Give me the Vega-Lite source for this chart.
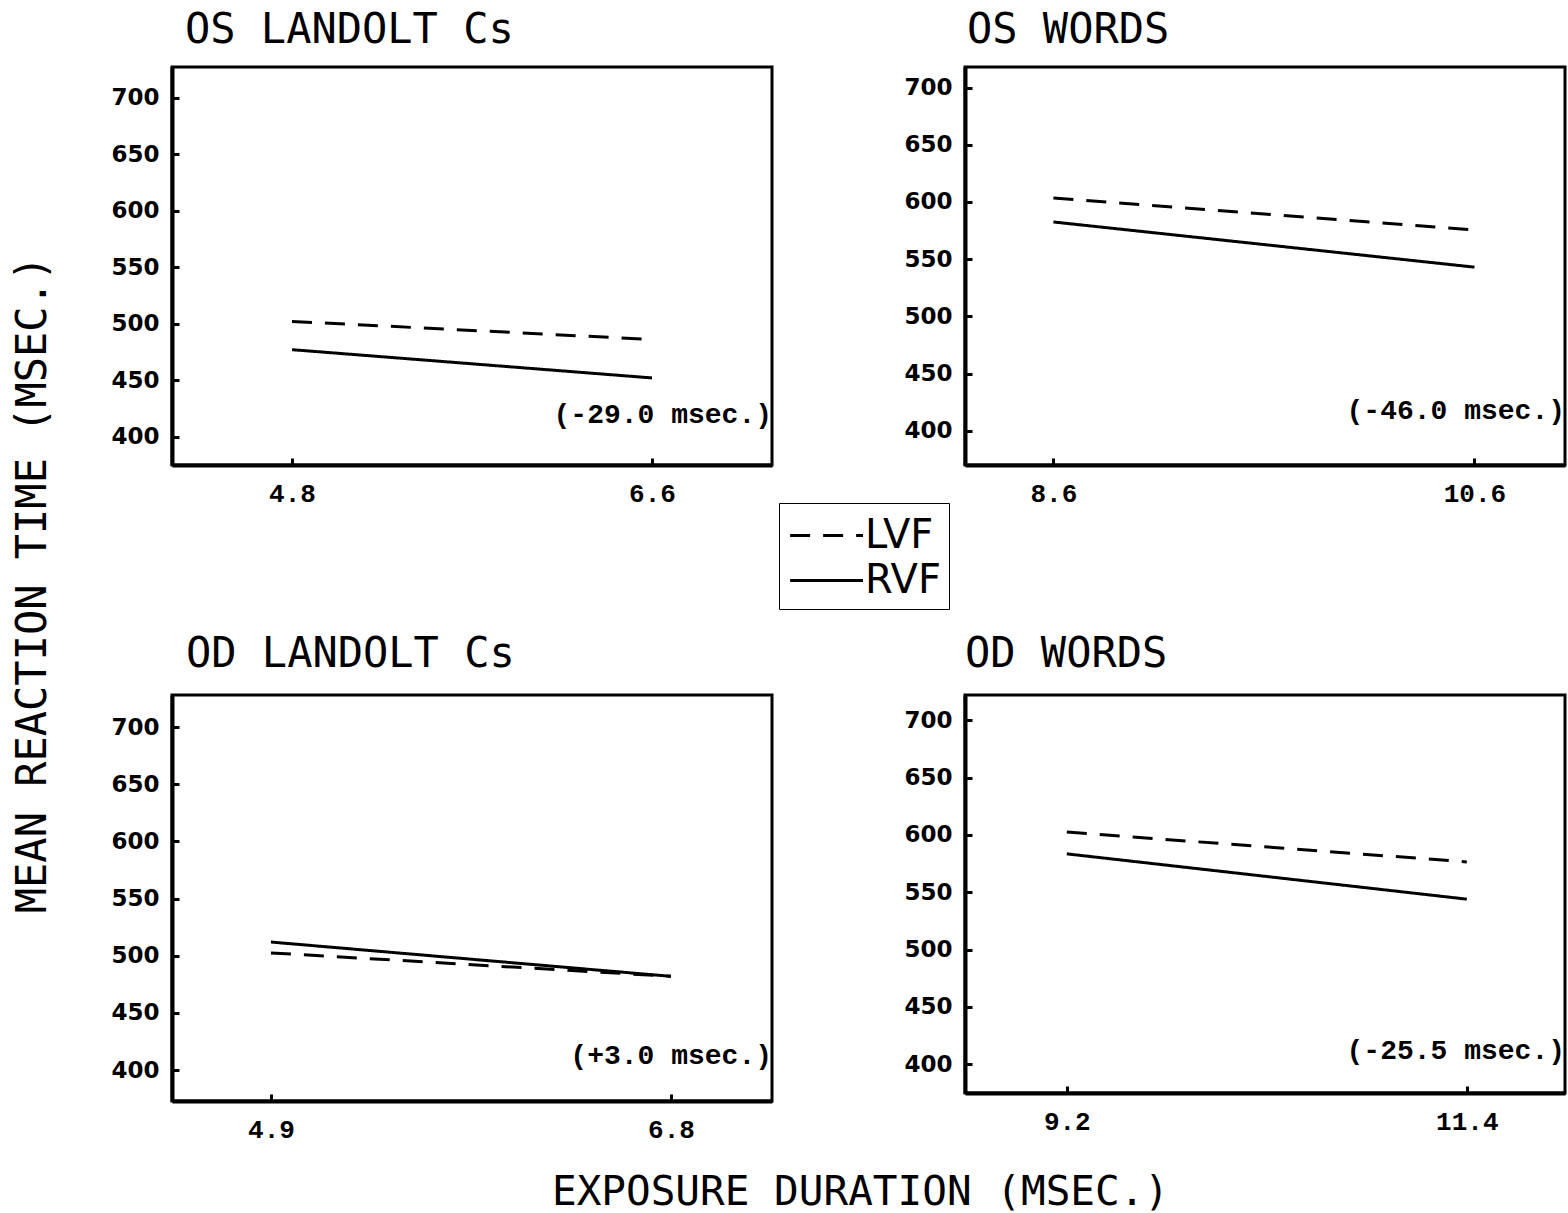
{
  "$schema": "https://vega.github.io/schema/vega-lite/v6.json",
  "background": "white",
  "padding": {"left": 9, "top": 7, "right": 0, "bottom": 0},
  "datasets": {
    "rt": [
      {"panel": "OS LANDOLT Cs", "field": "LVF", "duration": 4.8, "rt": 502},
      {"panel": "OS LANDOLT Cs", "field": "LVF", "duration": 6.6, "rt": 486},
      {"panel": "OS LANDOLT Cs", "field": "RVF", "duration": 4.8, "rt": 477},
      {"panel": "OS LANDOLT Cs", "field": "RVF", "duration": 6.6, "rt": 452},
      {"panel": "OS WORDS", "field": "LVF", "duration": 8.6, "rt": 603.5},
      {"panel": "OS WORDS", "field": "LVF", "duration": 10.6, "rt": 575.5},
      {"panel": "OS WORDS", "field": "RVF", "duration": 8.6, "rt": 582.5},
      {"panel": "OS WORDS", "field": "RVF", "duration": 10.6, "rt": 543},
      {"panel": "OD LANDOLT Cs", "field": "LVF", "duration": 4.9, "rt": 502.5},
      {"panel": "OD LANDOLT Cs", "field": "LVF", "duration": 6.8, "rt": 482},
      {"panel": "OD LANDOLT Cs", "field": "RVF", "duration": 4.9, "rt": 512},
      {"panel": "OD LANDOLT Cs", "field": "RVF", "duration": 6.8, "rt": 482},
      {"panel": "OD WORDS", "field": "LVF", "duration": 9.2, "rt": 602.5},
      {"panel": "OD WORDS", "field": "LVF", "duration": 11.4, "rt": 576.5},
      {"panel": "OD WORDS", "field": "RVF", "duration": 9.2, "rt": 583.5},
      {"panel": "OD WORDS", "field": "RVF", "duration": 11.4, "rt": 544}
    ],
    "notes": [
      {"panel": "OS LANDOLT Cs", "note": "(-29.0 msec.)"},
      {"panel": "OS WORDS", "note": "(-46.0 msec.)"},
      {"panel": "OD LANDOLT Cs", "note": "(+3.0 msec.)"},
      {"panel": "OD WORDS", "note": "(-25.5 msec.)"}
    ]
  },
  "columns": 2,
  "spacing": {"row": 230, "column": 193},
  "bounds": "flush",
  "resolve": {"scale": {"x": "independent", "y": "independent", "strokeDash": "shared"}},
  "concat": [
    {
      "width": 600, "height": 398,
      "title": {"text": "OS LANDOLT Cs", "anchor": "start", "frame": "group", "dx": 13, "offset": 15},
      "layer": [
        {
          "data": {"name": "rt"},
          "transform": [{"filter": "datum.panel == 'OS LANDOLT Cs'"}],
          "mark": {"type": "line", "stroke": "black", "strokeWidth": 3},
          "encoding": {
            "x": {"field": "duration", "type": "quantitative", "scale": {"domain": [4.2, 7.2], "nice": false, "zero": false},
                  "axis": {"values": [4.8, 6.6], "format": ".1f", "title": null}},
            "y": {"field": "rt", "type": "quantitative", "scale": {"domain": [375, 727], "nice": false, "zero": false},
                  "axis": {"values": [400, 425, 450, 475, 500, 525, 550, 575, 600, 625, 650, 675, 700, 725],
                           "labelExpr": "datum.value % 50 == 0 ? datum.label : ''",
                           "title": "MEAN REACTION TIME (MSEC.)", "titleX": -118, "titleY": 517, "titleAlign": "center", "titleAngle": -90, "titleBaseline": "bottom"}},
            "strokeDash": {"field": "field", "type": "nominal", "scale": {"domain": ["LVF", "RVF"], "range": [[20, 13], [1, 0]]}, "title": null,
                           "legend": {"encode": {"symbols": {"update": {"strokeDash": [{"test": "datum.value === 'LVF'", "value": [19, 5]}, {"value": [1, 0]}]}}}}}
          }
        },
        {
          "data": {"name": "notes"},
          "transform": [{"filter": "datum.panel == 'OS LANDOLT Cs'"}],
          "mark": {"type": "text", "align": "right", "baseline": "middle", "font": "Liberation Mono", "fontSize": 28, "fontWeight": "bold", "color": "black"},
          "encoding": {"text": {"field": "note"}, "x": {"datum": 7.2}, "y": {"datum": 419}}
        }
      ]
    },
    {
      "width": 600, "height": 398,
      "title": {"text": "OS WORDS", "anchor": "start", "frame": "group", "dx": 2, "offset": 15},
      "layer": [
        {
          "data": {"name": "rt"},
          "transform": [{"filter": "datum.panel == 'OS WORDS'"}],
          "mark": {"type": "line", "stroke": "black", "strokeWidth": 3},
          "encoding": {
            "x": {"field": "duration", "type": "quantitative", "scale": {"domain": [8.18, 11.03], "nice": false, "zero": false},
                  "axis": {"values": [8.6, 10.6], "format": ".1f", "title": null}},
            "y": {"field": "rt", "type": "quantitative", "scale": {"domain": [370, 718], "nice": false, "zero": false},
                  "axis": {"values": [400, 425, 450, 475, 500, 525, 550, 575, 600, 625, 650, 675, 700],
                           "labelExpr": "datum.value % 50 == 0 ? datum.label : ''", "title": null}},
            "strokeDash": {"field": "field", "type": "nominal", "scale": {"domain": ["LVF", "RVF"], "range": [[20, 13], [1, 0]]}, "title": null}
          }
        },
        {
          "data": {"name": "notes"},
          "transform": [{"filter": "datum.panel == 'OS WORDS'"}],
          "mark": {"type": "text", "align": "right", "baseline": "middle", "font": "Liberation Mono", "fontSize": 28, "fontWeight": "bold", "color": "black"},
          "encoding": {"text": {"field": "note"}, "x": {"datum": 11.03}, "y": {"datum": 417}}
        }
      ]
    },
    {
      "width": 600, "height": 406,
      "title": {"text": "OD LANDOLT Cs", "anchor": "start", "frame": "group", "dx": 14, "offset": 19},
      "layer": [
        {
          "data": {"name": "rt"},
          "transform": [{"filter": "datum.panel == 'OD LANDOLT Cs'"}],
          "mark": {"type": "line", "stroke": "black", "strokeWidth": 3},
          "encoding": {
            "x": {"field": "duration", "type": "quantitative", "scale": {"domain": [4.43, 7.28], "nice": false, "zero": false},
                  "axis": {"values": [4.9, 6.8], "format": ".1f",
                           "title": "EXPOSURE DURATION (MSEC.)", "titleX": 688, "titleY": 71, "titleAlign": "center", "titleBaseline": "top", "titleFontSize": 41}},
            "y": {"field": "rt", "type": "quantitative", "scale": {"domain": [373, 728], "nice": false, "zero": false},
                  "axis": {"values": [400, 425, 450, 475, 500, 525, 550, 575, 600, 625, 650, 675, 700, 725],
                           "labelExpr": "datum.value % 50 == 0 ? datum.label : ''", "title": null}},
            "strokeDash": {"field": "field", "type": "nominal", "scale": {"domain": ["LVF", "RVF"], "range": [[20, 13], [1, 0]]}, "title": null}
          }
        },
        {
          "data": {"name": "notes"},
          "transform": [{"filter": "datum.panel == 'OD LANDOLT Cs'"}],
          "mark": {"type": "text", "align": "right", "baseline": "middle", "font": "Liberation Mono", "fontSize": 28, "fontWeight": "bold", "color": "black"},
          "encoding": {"text": {"field": "note"}, "x": {"datum": 7.28}, "y": {"datum": 412}}
        }
      ]
    },
    {
      "width": 600, "height": 398,
      "title": {"text": "OD WORDS", "anchor": "start", "frame": "group", "dx": 0, "offset": 19},
      "layer": [
        {
          "data": {"name": "rt"},
          "transform": [{"filter": "datum.panel == 'OD WORDS'"}],
          "mark": {"type": "line", "stroke": "black", "strokeWidth": 3},
          "encoding": {
            "x": {"field": "duration", "type": "quantitative", "scale": {"domain": [8.64, 11.94], "nice": false, "zero": false},
                  "axis": {"values": [9.2, 11.4], "format": ".1f", "title": null}},
            "y": {"field": "rt", "type": "quantitative", "scale": {"domain": [375, 722], "nice": false, "zero": false},
                  "axis": {"values": [400, 425, 450, 475, 500, 525, 550, 575, 600, 625, 650, 675, 700],
                           "labelExpr": "datum.value % 50 == 0 ? datum.label : ''", "title": null}},
            "strokeDash": {"field": "field", "type": "nominal", "scale": {"domain": ["LVF", "RVF"], "range": [[20, 13], [1, 0]]}, "title": null}
          }
        },
        {
          "data": {"name": "notes"},
          "transform": [{"filter": "datum.panel == 'OD WORDS'"}],
          "mark": {"type": "text", "align": "right", "baseline": "middle", "font": "Liberation Mono", "fontSize": 28, "fontWeight": "bold", "color": "black"},
          "encoding": {"text": {"field": "note"}, "x": {"datum": 11.94}, "y": {"datum": 412}}
        }
      ]
    }
  ],
  "config": {
    "view": {"stroke": "black", "strokeWidth": 3},
    "title": {"font": "DejaVu Sans Mono", "fontSize": 42, "fontWeight": "normal", "color": "black"},
    "axis": {
      "grid": false,
      "domainColor": "black", "domainWidth": 4,
      "tickColor": "black", "tickWidth": 3, "tickSize": -7,
      "labelColor": "black", "titleColor": "black",
      "titleFont": "DejaVu Sans Mono", "titleFontSize": 42, "titleFontWeight": "normal"
    },
    "axisY": {"labelFont": "DejaVu Sans", "labelFontSize": 23, "labelFontWeight": "bold", "labelPadding": 20},
    "axisX": {"labelFont": "Liberation Mono", "labelFontSize": 26, "labelFontWeight": "bold", "labelPadding": 22},
    "legend": {
      "orient": "none", "legendX": 607, "legendY": 436,
      "strokeColor": "black", "padding": 8,
      "symbolType": "M-0.93,0H2.24", "symbolSize": 2116, "symbolStrokeWidth": 3, "symbolStrokeColor": "black", "symbolFillColor": "transparent",
      "labelFont": "DejaVu Sans", "labelFontSize": 40, "labelColor": "black", "labelOffset": 29,
      "rowPadding": 0
    }
  }
}
